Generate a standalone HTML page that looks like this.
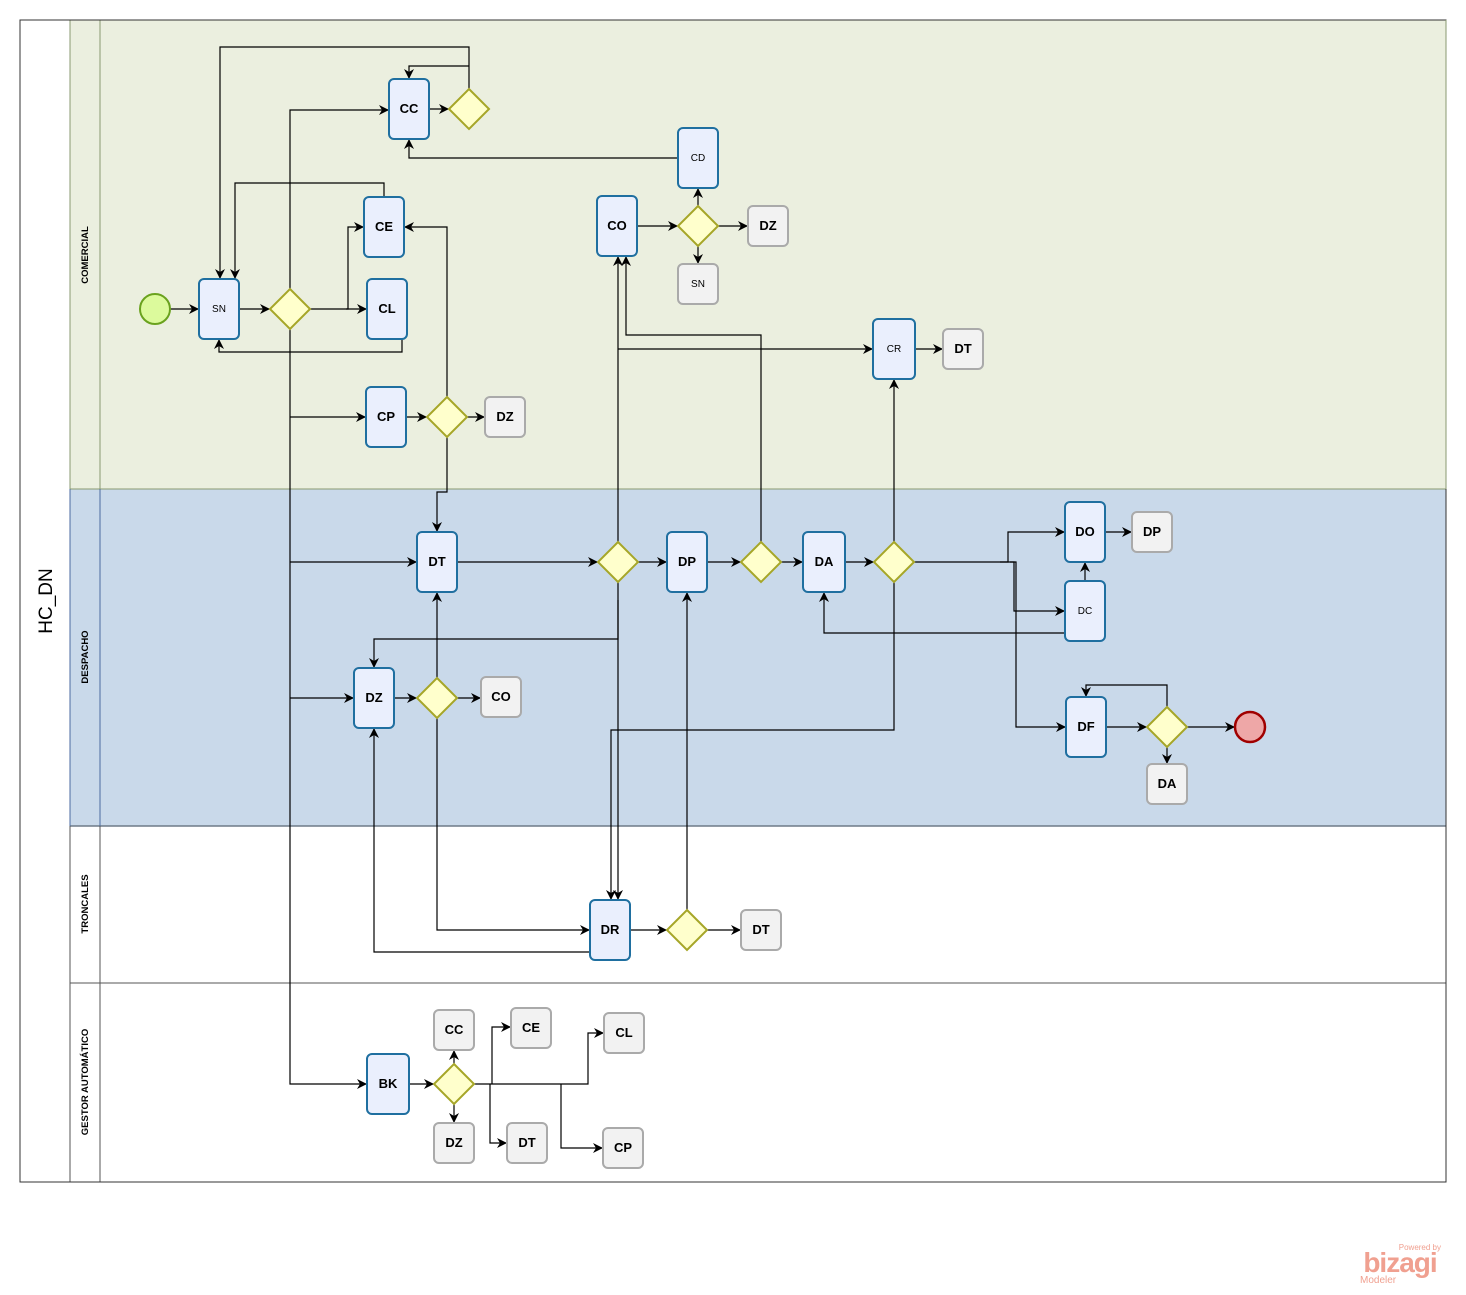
<!DOCTYPE html>
<html><head><meta charset="utf-8"><style>
html,body{margin:0;padding:0;background:#fff;}
svg{display:block;font-family:"Liberation Sans","DejaVu Sans",sans-serif;}
</style></head><body>
<svg width="1466" height="1295" viewBox="0 0 1466 1295" xmlns="http://www.w3.org/2000/svg">
<defs>
<marker id="a" viewBox="0 0 10 10" refX="10" refY="5" markerWidth="10" markerHeight="10" markerUnits="userSpaceOnUse" orient="auto">
<path d="M0,0 L10,5 L0,10 L3,5 Z" fill="#000"/></marker>
</defs>
<!-- lanes -->
<rect x="70" y="20" width="1376" height="469" fill="#ebefdf"/>
<rect x="70" y="489" width="1376" height="337" fill="#c9d9ea"/>
<rect x="70" y="826" width="1376" height="157" fill="#fff"/>
<rect x="70" y="983" width="1376" height="199" fill="#fff"/>
<line x1="70" y1="489" x2="1446" y2="489" stroke="#8a9a70"/>
<line x1="70" y1="826" x2="1446" y2="826" stroke="#6e7a88" stroke-width="1.5"/>
<line x1="70" y1="983" x2="1446" y2="983" stroke="#555"/>
<line x1="100" y1="20" x2="100" y2="489" stroke="#8a9a70"/>
<line x1="100" y1="489" x2="100" y2="826" stroke="#4a6aa0"/>
<line x1="100" y1="826" x2="100" y2="1182" stroke="#555"/>
<line x1="70" y1="20" x2="70" y2="489" stroke="#8a9a70"/>
<line x1="70" y1="489" x2="70" y2="826" stroke="#4a6aa0"/>
<line x1="70" y1="826" x2="70" y2="1182" stroke="#555"/>
<rect x="20" y="20" width="1426" height="1162" fill="none" stroke="#333"/>
<line x1="1446" y1="20" x2="1446" y2="489" stroke="#8a9a70"/>
<text transform="translate(52,601) rotate(-90)" font-size="19" text-anchor="middle">HC_DN</text>
<g font-size="9.5" font-weight="bold" text-anchor="middle">
<text transform="translate(88,255) rotate(-90)">COMERCIAL</text>
<text transform="translate(88,657) rotate(-90)">DESPACHO</text>
<text transform="translate(88,904) rotate(-90)">TRONCALES</text>
<text transform="translate(88,1082) rotate(-90)">GESTOR AUTOMÁTICO</text>
</g>

<!-- connectors -->
<g fill="none" stroke="#000" stroke-width="1.2">
<path d="M170,309H199" marker-end="url(#a)"/>
<path d="M239,309H270" marker-end="url(#a)"/>
<path d="M310,309H367" marker-end="url(#a)"/>
<path d="M346,309H348V227H364" marker-end="url(#a)"/>
<path d="M402,339V352H219V339" marker-end="url(#a)"/>
<path d="M384,197V183H235V279" marker-end="url(#a)"/>
<path d="M469,89V47H220V279" marker-end="url(#a)"/>
<path d="M469,66H409V79" marker-end="url(#a)"/>
<path d="M429,109H449" marker-end="url(#a)"/>
<path d="M290,289V110H389" marker-end="url(#a)"/>
<path d="M290,329V1084H367" marker-end="url(#a)"/>
<path d="M290,417H366" marker-end="url(#a)"/>
<path d="M290,562H417" marker-end="url(#a)"/>
<path d="M290,698H354" marker-end="url(#a)"/>
<path d="M406,417H427" marker-end="url(#a)"/>
<path d="M467,417H485" marker-end="url(#a)"/>
<path d="M447,397V227H404" marker-end="url(#a)"/>
<path d="M447,437V492H437V532" marker-end="url(#a)"/>
<path d="M678,158H409V139" marker-end="url(#a)"/>
<path d="M637,226H678" marker-end="url(#a)"/>
<path d="M718,226H748" marker-end="url(#a)"/>
<path d="M698,206V188" marker-end="url(#a)"/>
<path d="M698,246V264" marker-end="url(#a)"/>
<path d="M457,562H598" marker-end="url(#a)"/>
<path d="M638,562H667" marker-end="url(#a)"/>
<path d="M618,542V256" marker-end="url(#a)"/>
<path d="M618,349H873" marker-end="url(#a)"/>
<path d="M618,582V639H374V668" marker-end="url(#a)"/>
<path d="M618,600V900" marker-end="url(#a)"/>
<path d="M707,562H741" marker-end="url(#a)"/>
<path d="M781,562H803" marker-end="url(#a)"/>
<path d="M761,542V335H626V256" marker-end="url(#a)"/>
<path d="M845,562H874" marker-end="url(#a)"/>
<path d="M894,542V379" marker-end="url(#a)"/>
<path d="M915,349H943" marker-end="url(#a)"/>
<path d="M914,562H1008V532H1065" marker-end="url(#a)"/>
<path d="M1000,562H1014V611H1065" marker-end="url(#a)"/>
<path d="M1010,562H1016V727H1066" marker-end="url(#a)"/>
<path d="M894,582V730H611V900" marker-end="url(#a)"/>
<path d="M1065,633H824V592" marker-end="url(#a)"/>
<path d="M1085,581V562" marker-end="url(#a)"/>
<path d="M1105,532H1132" marker-end="url(#a)"/>
<path d="M1106,727H1147" marker-end="url(#a)"/>
<path d="M1187,727H1235" marker-end="url(#a)"/>
<path d="M1167,747V764" marker-end="url(#a)"/>
<path d="M1167,707V685H1086V697" marker-end="url(#a)"/>
<path d="M394,698H417" marker-end="url(#a)"/>
<path d="M457,698H481" marker-end="url(#a)"/>
<path d="M437,678V592" marker-end="url(#a)"/>
<path d="M437,718V930H590" marker-end="url(#a)"/>
<path d="M590,952H374V728" marker-end="url(#a)"/>
<path d="M630,930H667" marker-end="url(#a)"/>
<path d="M707,930H741" marker-end="url(#a)"/>
<path d="M687,910V592" marker-end="url(#a)"/>
<path d="M409,1084H434" marker-end="url(#a)"/>
<path d="M454,1064V1050" marker-end="url(#a)"/>
<path d="M454,1104V1123" marker-end="url(#a)"/>
<path d="M474,1084H588V1033H604" marker-end="url(#a)"/>
<path d="M492,1084V1027H511" marker-end="url(#a)"/>
<path d="M490,1084V1143H507" marker-end="url(#a)"/>
<path d="M561,1084V1148H603" marker-end="url(#a)"/>
</g>

<!-- events -->
<circle cx="155" cy="309" r="15" fill="#dcfa9c" stroke="#6aa21e" stroke-width="2"/>
<circle cx="1250" cy="727" r="15" fill="#eea7a7" stroke="#a00000" stroke-width="2.5"/>

<!-- gateways -->
<g fill="#ffffcc" stroke="#a6a628" stroke-width="2">
<path d="M290,289l20,20l-20,20l-20,-20z"/>
<path d="M469,89l20,20l-20,20l-20,-20z"/>
<path d="M447,397l20,20l-20,20l-20,-20z"/>
<path d="M698,206l20,20l-20,20l-20,-20z"/>
<path d="M618,542l20,20l-20,20l-20,-20z"/>
<path d="M761,542l20,20l-20,20l-20,-20z"/>
<path d="M894,542l20,20l-20,20l-20,-20z"/>
<path d="M437,678l20,20l-20,20l-20,-20z"/>
<path d="M1167,707l20,20l-20,20l-20,-20z"/>
<path d="M687,910l20,20l-20,20l-20,-20z"/>
<path d="M454,1064l20,20l-20,20l-20,-20z"/>
</g>

<!-- tasks -->
<g fill="#eaeffd" stroke="#1f6fa0" stroke-width="2">
<rect x="199" y="279" width="40" height="60" rx="5"/>
<rect x="389" y="79" width="40" height="60" rx="5"/>
<rect x="364" y="197" width="40" height="60" rx="5"/>
<rect x="367" y="279" width="40" height="60" rx="5"/>
<rect x="366" y="387" width="40" height="60" rx="5"/>
<rect x="678" y="128" width="40" height="60" rx="5"/>
<rect x="597" y="196" width="40" height="60" rx="5"/>
<rect x="873" y="319" width="42" height="60" rx="5"/>
<rect x="417" y="532" width="40" height="60" rx="5"/>
<rect x="667" y="532" width="40" height="60" rx="5"/>
<rect x="803" y="532" width="42" height="60" rx="5"/>
<rect x="1065" y="502" width="40" height="60" rx="5"/>
<rect x="1065" y="581" width="40" height="60" rx="5"/>
<rect x="1066" y="697" width="40" height="60" rx="5"/>
<rect x="354" y="668" width="40" height="60" rx="5"/>
<rect x="590" y="900" width="40" height="60" rx="5"/>
<rect x="367" y="1054" width="42" height="60" rx="5"/>
</g>
<g fill="#f2f2f2" stroke="#aaa" stroke-width="2">
<rect x="748" y="206" width="40" height="40" rx="5"/>
<rect x="678" y="264" width="40" height="40" rx="5"/>
<rect x="485" y="397" width="40" height="40" rx="5"/>
<rect x="943" y="329" width="40" height="40" rx="5"/>
<rect x="1132" y="512" width="40" height="40" rx="5"/>
<rect x="481" y="677" width="40" height="40" rx="5"/>
<rect x="1147" y="764" width="40" height="40" rx="5"/>
<rect x="741" y="910" width="40" height="40" rx="5"/>
<rect x="434" y="1010" width="40" height="40" rx="5"/>
<rect x="511" y="1008" width="40" height="40" rx="5"/>
<rect x="604" y="1013" width="40" height="40" rx="5"/>
<rect x="434" y="1123" width="40" height="40" rx="5"/>
<rect x="507" y="1123" width="40" height="40" rx="5"/>
<rect x="603" y="1128" width="40" height="40" rx="5"/>
</g>
<g font-size="13" font-weight="bold" text-anchor="middle">
<text x="409" y="113">CC</text>
<text x="384" y="231">CE</text>
<text x="387" y="313">CL</text>
<text x="386" y="421">CP</text>
<text x="617" y="230">CO</text>
<text x="437" y="566">DT</text>
<text x="687" y="566">DP</text>
<text x="824" y="566">DA</text>
<text x="1085" y="536">DO</text>
<text x="1086" y="731">DF</text>
<text x="374" y="702">DZ</text>
<text x="610" y="934">DR</text>
<text x="388" y="1088">BK</text>
<text x="768" y="230">DZ</text>
<text x="505" y="421">DZ</text>
<text x="963" y="353">DT</text>
<text x="1152" y="536">DP</text>
<text x="501" y="701">CO</text>
<text x="1167" y="788">DA</text>
<text x="761" y="934">DT</text>
<text x="454" y="1034">CC</text>
<text x="531" y="1032">CE</text>
<text x="624" y="1037">CL</text>
<text x="454" y="1147">DZ</text>
<text x="527" y="1147">DT</text>
<text x="623" y="1152">CP</text>
</g>
<g font-size="10" text-anchor="middle">
<text x="219" y="312">SN</text>
<text x="698" y="161">CD</text>
<text x="698" y="287">SN</text>
<text x="894" y="352">CR</text>
<text x="1085" y="614">DC</text>
</g>
<!-- logo -->
<text x="1441" y="1250" font-size="8" fill="#f0a090" text-anchor="end">Powered by</text>
<text x="1400" y="1272" font-size="28" font-weight="bold" fill="#f0a090" text-anchor="middle" letter-spacing="-1">bizagi</text>
<text x="1360" y="1283" font-size="10" fill="#f0a090">Modeler</text>
</svg>
</body></html>
